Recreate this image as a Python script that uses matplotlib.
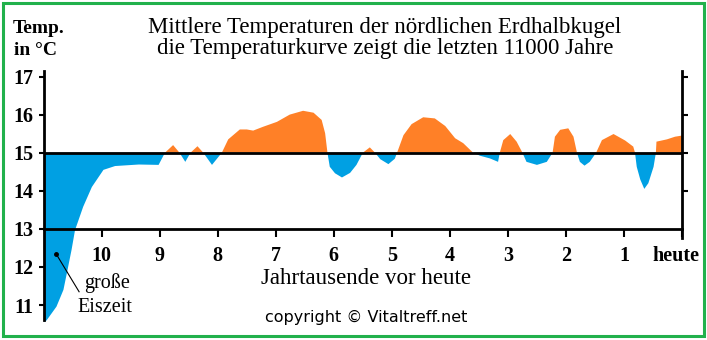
import matplotlib
matplotlib.use("Agg")
import matplotlib.pyplot as plt
from matplotlib.patches import Rectangle
from matplotlib.transforms import ScaledTranslation
import numpy as np

# --- data: thousands of years before today vs. mean temperature (°C)
kyr = [11.0, 10.95, 10.78, 10.66, 10.59, 10.52, 10.46, 10.4, 10.32, 10.17,
       9.97, 9.77, 9.36, 9.02, 8.91, 8.77, 8.66, 8.56, 8.47, 8.35, 8.25, 8.1,
       7.93, 7.82, 7.62, 7.5, 7.39, 7.22, 6.98, 6.76, 6.53, 6.35, 6.21, 6.15,
       6.11, 6.07, 5.98, 5.86, 5.72, 5.61, 5.5, 5.38, 5.29, 5.2, 5.06, 4.95,
       4.91, 4.8, 4.66, 4.46, 4.26, 4.08, 3.91, 3.77, 3.6, 3.48, 3.31, 3.17,
       3.14, 3.08, 2.96, 2.85, 2.75, 2.68, 2.5, 2.33, 2.23, 2.19, 2.1, 1.96,
       1.87, 1.81, 1.76, 1.68, 1.59, 1.48, 1.38, 1.18, 0.98, 0.84, 0.81, 0.78,
       0.72, 0.65, 0.58, 0.49, 0.45, 0.44, 0.26, 0.12, 0.0]
temp = [10.55, 10.6, 10.96, 11.4, 11.92, 12.45, 12.97, 13.23, 13.58, 14.1,
        14.55, 14.65, 14.69, 14.68, 15.0, 15.2, 15.0, 14.76, 15.0, 15.17, 15.0, 14.68,
        15.0, 15.35, 15.61, 15.61, 15.58, 15.68, 15.81, 16.0, 16.1, 16.05, 15.86, 15.51,
        15.0, 14.63, 14.46, 14.35, 14.47, 14.68, 15.0, 15.14, 15.0, 14.83, 14.7, 14.84,
        15.0, 15.46, 15.75, 15.93, 15.9, 15.7, 15.38, 15.25, 15.0, 14.92, 14.85, 14.76,
        15.0, 15.33, 15.49, 15.29, 15.0, 14.76, 14.68, 14.76, 15.0, 15.42, 15.6, 15.64,
        15.42, 15.0, 14.76, 14.66, 14.76, 15.0, 15.33, 15.49, 15.32, 15.16, 15.0, 14.63,
        14.3, 14.05, 14.2, 14.63, 15.0, 15.29, 15.35, 15.42, 15.45]
baseline = 15.0

x_ticks = [10, 9, 8, 7, 6, 5, 4, 3, 2, 1, 0]
x_labels = ["10", "9", "8", "7", "6", "5", "4", "3", "2", "1", "heute"]
y_ticks = [11, 12, 13, 14, 15, 16, 17]
y_ticks_right = [14, 15, 16, 17]

title1 = "Mittlere Temperaturen der nördlichen Erdhalbkugel"
title2 = "die Temperaturkurve zeigt die letzten 11000 Jahre"

# annotation "große Eiszeit"
eis_dot = (10.78, 12.33)
eis_end = (10.39, 11.35)

BLUE = "#00A0E3"
ORANGE = "#FF8027"
GREEN = "#22B14C"
SERIF = ["Liberation Serif", "DejaVu Serif"]

W, H = 707, 340
fig = plt.figure(figsize=(W / 100, H / 100), dpi=100)
fig.patch.set_facecolor("white")

def fx(px):
    return px / W

def fy(py):
    return 1 - py / H

# axes placed so that x=11 -> px 43.7, x=0 -> px 682, y=17 -> px 76.5 (38.1 px / °C)
y_lo, y_hi = 10.5, 17.2
top_px = 76.5 - (y_hi - 17) * 38.1
bot_px = 76.5 + (17 - y_lo) * 38.1
ax = fig.add_axes([fx(43.7), fy(bot_px), fx(682) - fx(43.7), (bot_px - top_px) / H])
ax.set_xlim(11, 0)
ax.set_ylim(y_lo, y_hi)
ax.patch.set_alpha(0)

k = np.array(kyr)
t = np.array(temp)
ax.fill_between(k, t, baseline, where=t <= baseline, interpolate=True,
                color=BLUE, lw=0)
ax.fill_between(k, t, baseline, where=t >= baseline, interpolate=True,
                color=ORANGE, lw=0)
ax.axhline(baseline, color="black", lw=2.0, zorder=3)

# spines
for s in ["top", "right"]:
    ax.spines[s].set_visible(False)
ax.spines["left"].set_linewidth(2.0)
ax.spines["left"].set_bounds(10.6, 17.15)
ax.spines["bottom"].set_position(("data", 13))
ax.spines["bottom"].set_linewidth(2.0)

ax.set_xticks(x_ticks)
ax.set_xticklabels(x_labels, fontfamily=SERIF, fontweight="bold", fontsize=14.5)
ax.set_yticks(y_ticks)
ax.set_yticklabels([str(v) for v in y_ticks], fontfamily=SERIF,
                   fontweight="bold", fontsize=14.5)
ax.tick_params(axis="x", direction="out", length=6, width=1.5, pad=6)
ax.tick_params(axis="y", direction="out", length=3.5, width=1.5, pad=4)

# nudge "heute" a bit to the left so it stays inside the frame
lab = ax.get_xticklabels()[-1]
lab.set_transform(lab.get_transform() + ScaledTranslation(-6 / 100, 0, fig.dpi_scale_trans))

# right axis (only down to the 13 line)
ax2 = ax.twinx()
ax2.set_ylim(y_lo, y_hi)
for s in ["top", "left", "bottom"]:
    ax2.spines[s].set_visible(False)
ax2.spines["right"].set_linewidth(2.0)
ax2.spines["right"].set_bounds(12.75, 17.15)
ax2.set_yticks(y_ticks_right)
ax2.tick_params(axis="y", direction="out", length=4.5, width=1.5, labelright=False)

# große Eiszeit
ax.plot([eis_dot[0]], [eis_dot[1]], "o", color="black", ms=2.5, zorder=4)
ax.plot([eis_dot[0], eis_end[0]], [eis_dot[1], eis_end[1]], color="black", lw=0.8, zorder=4)

# texts
fig.text(fx(385), fy(33), title1, ha="center", va="baseline", fontfamily=SERIF, fontsize=16.5)
fig.text(fx(385), fy(54), title2, ha="center", va="baseline", fontfamily=SERIF, fontsize=16.5)
fig.text(fx(13), fy(33), "Temp.", ha="left", va="baseline", fontfamily=SERIF,
         fontweight="bold", fontsize=14)
fig.text(fx(14), fy(55), "in °C", ha="left", va="baseline", fontfamily=SERIF,
         fontweight="bold", fontsize=14)
fig.text(fx(366), fy(284), "Jahrtausende vor heute", ha="center", va="baseline",
         fontfamily=SERIF, fontsize=16.5)
fig.text(fx(107), fy(288), "große", ha="center", va="baseline", fontfamily=SERIF, fontsize=14.5)
fig.text(fx(105), fy(312), "Eiszeit", ha="center", va="baseline", fontfamily=SERIF, fontsize=14.5)
fig.text(fx(366), fy(322), "copyright © Vitaltreff.net", ha="center", va="baseline",
         fontfamily="DejaVu Sans", fontsize=11.5)

# green frame
fig.add_artist(Rectangle((fx(3), fy(335.5)), fx(703.5) - fx(3), fy(3) - fy(335.5),
                         transform=fig.transFigure, fill=False, lw=2.2, ec=GREEN))

fig.savefig("out.png", dpi=100, facecolor="white")
